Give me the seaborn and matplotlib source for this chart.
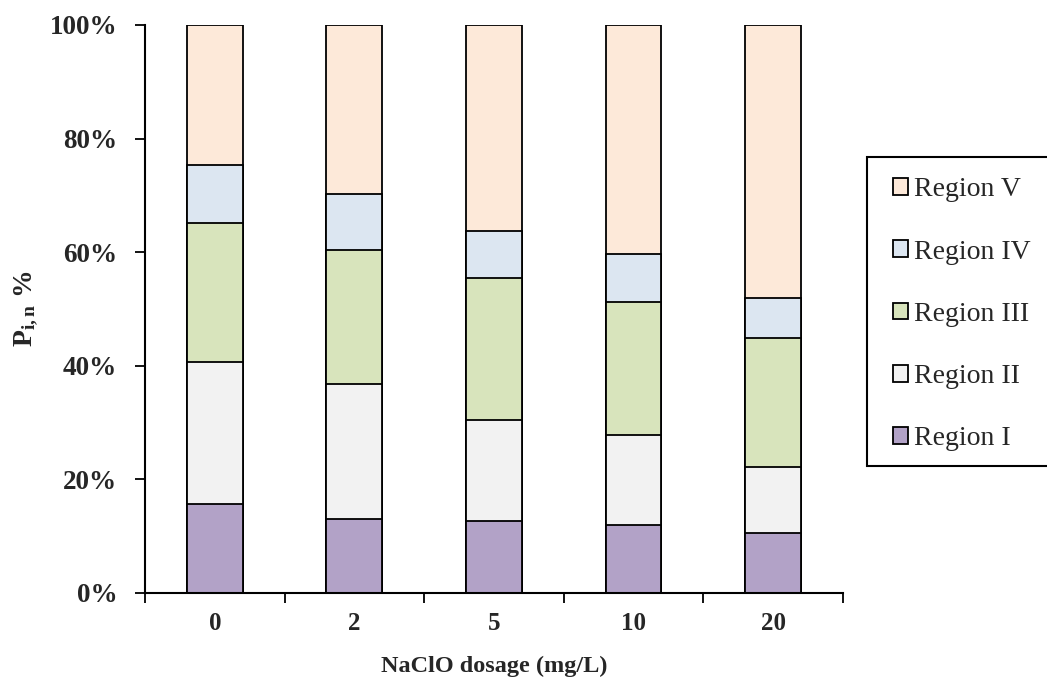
import matplotlib
matplotlib.use("Agg")
import matplotlib.pyplot as plt
from matplotlib.patches import Patch, Rectangle
from matplotlib.ticker import FixedLocator, PercentFormatter
import numpy as np
import pandas as pd
import seaborn as sns

# NaClO dosage groups and share (%) of each region
dosages = ["0", "2", "5", "10", "20"]
region_i = [15.7, 13.0, 12.6, 11.9, 10.5]
region_ii = [24.9, 23.8, 17.9, 15.9, 11.7]
region_iii = [24.5, 23.5, 25.0, 23.4, 22.7]
region_iv = [10.3, 9.9, 8.3, 8.4, 7.0]
region_v = [24.6, 29.8, 36.2, 40.4, 48.1]

region_names = ["Region I", "Region II", "Region III", "Region IV", "Region V"]
region_colors = ["#B2A2C7", "#F2F2F2", "#D8E4BC", "#DCE6F1", "#FDE9D9"]

sns.set_theme(style="white")
plt.rcParams["font.family"] = ["Liberation Serif", "DejaVu Serif"]
plt.rcParams["mathtext.fontset"] = "custom"
plt.rcParams["mathtext.rm"] = "Liberation Serif:bold"
plt.rcParams["mathtext.bf"] = "Liberation Serif:bold"
plt.rcParams["mathtext.it"] = "Liberation Serif:bold"

series = [region_i, region_ii, region_iii, region_iv, region_v]
cumulative = np.cumsum(np.array(series), axis=0)

fig = plt.figure(figsize=(10.47, 6.82), dpi=100)
ax = fig.add_axes([0.1385, 0.1305, 0.6665, 0.833])

# Stack by overlaying cumulative totals, tallest first
for k in range(len(series) - 1, -1, -1):
    df = pd.DataFrame({"dosage": dosages, "value": cumulative[k]})
    sns.barplot(data=df, x="dosage", y="value", order=dosages, color=region_colors[k],
                saturation=1, width=0.4, edgecolor="black", linewidth=1.3, ax=ax)

ax.set_xlim(-0.5, len(dosages) - 0.5)
ax.set_ylim(0, 100)
ax.yaxis.set_major_locator(FixedLocator([0, 20, 40, 60, 80, 100]))
ax.yaxis.set_major_formatter(PercentFormatter(decimals=0))

ax.xaxis.set_minor_locator(FixedLocator(np.arange(-0.5, len(dosages), 1.0)))
ax.tick_params(axis="x", which="major", length=0, pad=14, labelsize=18)
ax.tick_params(axis="x", which="minor", length=7, width=1.3, direction="out", color="black", bottom=True)
ax.tick_params(axis="y", which="major", length=7, width=1.3, direction="out", color="black", left=True,
               labelsize=19.5, pad=13)
for lab in ax.get_xticklabels() + ax.get_yticklabels():
    lab.set_fontweight("bold")

for side in ["top", "right"]:
    ax.spines[side].set_visible(False)
for side in ["left", "bottom"]:
    ax.spines[side].set_color("black")
    ax.spines[side].set_linewidth(1.5)

ax.set_xlabel("NaClO dosage (mg/L)", fontsize=17.5, fontweight="bold", labelpad=15)
ax.set_ylabel(r"$\mathbf{P_{i,n}}$ %", fontsize=20, fontweight="bold")
ax.yaxis.set_label_coords(-0.150, 0.5)

# Legend box: open frame running off the right edge of the figure
fig.add_artist(Rectangle((0.828, 0.317), 0.25, 0.453, transform=fig.transFigure,
                         facecolor="white", edgecolor="black", linewidth=1.5, zorder=1))

handles = [Patch(facecolor=region_colors[k], edgecolor="black", linewidth=1.3, label=region_names[k])
           for k in range(len(series) - 1, -1, -1)]
leg = fig.legend(handles=handles, loc="upper left", bbox_to_anchor=(0.853, 0.740),
                 frameon=False, fontsize=20,
                 handlelength=0.55, handleheight=0.55, handletextpad=0.22,
                 labelspacing=1.34, borderpad=0, borderaxespad=0)
leg.set_zorder(2)

fig.savefig("out.png", dpi=100, facecolor="white")
